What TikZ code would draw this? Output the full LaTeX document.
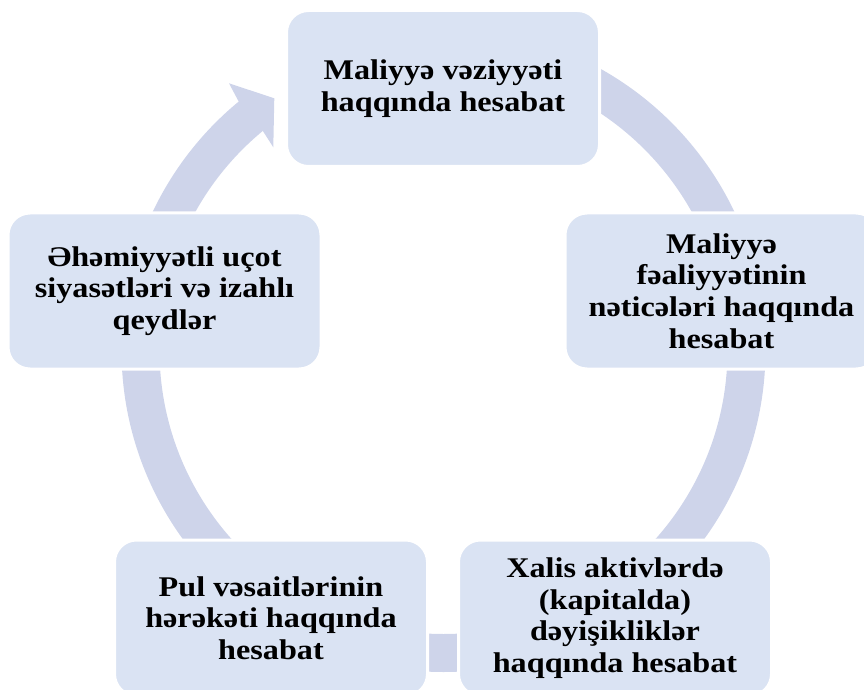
\documentclass[tikz,border=0pt]{standalone}
\usepackage{fontspec}
\setmainfont{Liberation Serif}
\newfontfamily\boxfont{Liberation Serif}[FakeStretch=1.13]
\definecolor{ringc}{RGB}{206,212,234}
\definecolor{boxc}{RGB}{218,227,243}
\begin{document}
\begin{tikzpicture}[x=1pt,y=1pt,
  box/.style={rounded corners=22pt, fill=boxc, draw=white, line width=3pt,
    minimum width=313pt, minimum height=156pt, inner sep=0pt, align=center,
    font=\boxfont\bfseries\fontsize{28.5}{31.7}\selectfont},
  ring/.style={draw=ringc, line width=38pt}]
\useasboundingbox (0,0) rectangle (864,689);
\clip (0,0) rectangle (864,689);
\coordinate (ringstart) at (443.5,642);
\draw[ring] (ringstart) arc[start angle=90, end angle=-230.5, radius=303];
\fill[ringc] (238.7,587.4) -- (229,605.7) -- (274.3,590.7) -- (273.3,541.7) -- (262.8,558.1) -- (240.8,564.2) -- cycle;
\node[box] (n1) at (443,600.5) {Maliyyə vəziyyəti\\haqqında hesabat};
\node[box] (n2) at (721.5,398) {Maliyyə\\fəaliyyətinin\\nəticələri haqqında\\hesabat};
\node[box] (n3) at (615,71) {Xalis aktivlərdə\\(kapitalda)\\dəyişikliklər\\haqqında hesabat};
\node[box] (n4) at (271,71) {Pul vəsaitlərinin\\hərəkəti haqqında\\hesabat};
\node[box] (n5) at (164.5,398) {Əhəmiyyətli uçot\\siyasətləri və izahlı\\qeydlər};
\end{tikzpicture}
\end{document}
